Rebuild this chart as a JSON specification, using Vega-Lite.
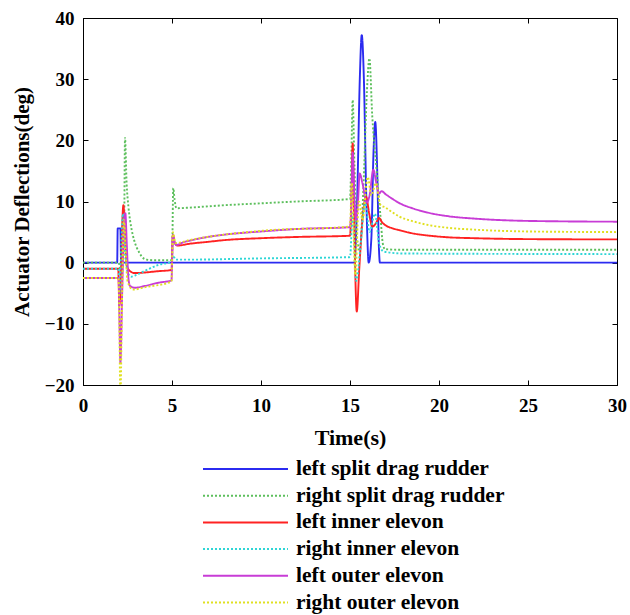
{
  "$schema": "https://vega.github.io/schema/vega-lite/v6.json",
  "autosize": {"type": "none"},
  "width": 534,
  "height": 367,
  "padding": {"left": 83, "top": 18, "right": 13, "bottom": 230},
  "background": "white",
  "config": {
    "view": {"stroke": "black", "strokeWidth": 1},
    "font": "Liberation Serif"
  },
  "datasets": {
    "d": [
      {"s":"left split drag rudder","t":0,"v":0},
      {"s":"left split drag rudder","t":1.92,"v":0},
      {"s":"left split drag rudder","t":1.95,"v":5.6},
      {"s":"left split drag rudder","t":2.1,"v":5.6},
      {"s":"left split drag rudder","t":2.14,"v":0},
      {"s":"left split drag rudder","t":15.25,"v":0},
      {"s":"left split drag rudder","t":15.4,"v":10},
      {"s":"left split drag rudder","t":15.55,"v":30},
      {"s":"left split drag rudder","t":15.66,"v":37.2},
      {"s":"left split drag rudder","t":15.78,"v":30},
      {"s":"left split drag rudder","t":15.92,"v":10},
      {"s":"left split drag rudder","t":16.05,"v":0},
      {"s":"left split drag rudder","t":16.2,"v":4},
      {"s":"left split drag rudder","t":16.32,"v":18},
      {"s":"left split drag rudder","t":16.42,"v":23},
      {"s":"left split drag rudder","t":16.52,"v":16},
      {"s":"left split drag rudder","t":16.63,"v":2},
      {"s":"left split drag rudder","t":16.68,"v":0},
      {"s":"left split drag rudder","t":30,"v":0},

      {"s":"right split drag rudder","t":0,"v":0},
      {"s":"right split drag rudder","t":2.0,"v":0},
      {"s":"right split drag rudder","t":2.15,"v":-2},
      {"s":"right split drag rudder","t":2.3,"v":2},
      {"s":"right split drag rudder","t":2.36,"v":20.4},
      {"s":"right split drag rudder","t":2.45,"v":13},
      {"s":"right split drag rudder","t":2.55,"v":9.2},
      {"s":"right split drag rudder","t":2.65,"v":6.8},
      {"s":"right split drag rudder","t":2.74,"v":5.3},
      {"s":"right split drag rudder","t":2.87,"v":3.7},
      {"s":"right split drag rudder","t":3.0,"v":2.6},
      {"s":"right split drag rudder","t":3.15,"v":1.7},
      {"s":"right split drag rudder","t":3.3,"v":1.0},
      {"s":"right split drag rudder","t":3.57,"v":0.5},
      {"s":"right split drag rudder","t":4.0,"v":0.4},
      {"s":"right split drag rudder","t":5.0,"v":0.4},
      {"s":"right split drag rudder","t":5.07,"v":12.2},
      {"s":"right split drag rudder","t":5.15,"v":10.2},
      {"s":"right split drag rudder","t":5.25,"v":8.9},
      {"s":"right split drag rudder","t":6,"v":9.0},
      {"s":"right split drag rudder","t":7,"v":9.2},
      {"s":"right split drag rudder","t":8,"v":9.4},
      {"s":"right split drag rudder","t":10,"v":9.7},
      {"s":"right split drag rudder","t":12,"v":10.0},
      {"s":"right split drag rudder","t":15.0,"v":10.4},
      {"s":"right split drag rudder","t":15.08,"v":18},
      {"s":"right split drag rudder","t":15.15,"v":26.6},
      {"s":"right split drag rudder","t":15.25,"v":16},
      {"s":"right split drag rudder","t":15.4,"v":4},
      {"s":"right split drag rudder","t":15.55,"v":2},
      {"s":"right split drag rudder","t":15.75,"v":12},
      {"s":"right split drag rudder","t":15.95,"v":28},
      {"s":"right split drag rudder","t":16.09,"v":33.4},
      {"s":"right split drag rudder","t":16.25,"v":24},
      {"s":"right split drag rudder","t":16.5,"v":15},
      {"s":"right split drag rudder","t":16.7,"v":8},
      {"s":"right split drag rudder","t":16.85,"v":3},
      {"s":"right split drag rudder","t":16.97,"v":2.2},
      {"s":"right split drag rudder","t":18,"v":2.1},
      {"s":"right split drag rudder","t":30,"v":2.1},

      {"s":"left inner elevon","t":0,"v":-1},
      {"s":"left inner elevon","t":1.98,"v":-1},
      {"s":"left inner elevon","t":2.04,"v":-7},
      {"s":"left inner elevon","t":2.12,"v":-3},
      {"s":"left inner elevon","t":2.2,"v":6},
      {"s":"left inner elevon","t":2.27,"v":9.4},
      {"s":"left inner elevon","t":2.34,"v":6},
      {"s":"left inner elevon","t":2.45,"v":-0.4},
      {"s":"left inner elevon","t":2.65,"v":-1.4},
      {"s":"left inner elevon","t":2.9,"v":-1.7},
      {"s":"left inner elevon","t":3.5,"v":-1.6},
      {"s":"left inner elevon","t":4.2,"v":-1.4},
      {"s":"left inner elevon","t":4.97,"v":-1.2},
      {"s":"left inner elevon","t":5.05,"v":4.5},
      {"s":"left inner elevon","t":5.15,"v":3.3},
      {"s":"left inner elevon","t":5.3,"v":2.8},
      {"s":"left inner elevon","t":6,"v":3.1},
      {"s":"left inner elevon","t":7,"v":3.4},
      {"s":"left inner elevon","t":8,"v":3.7},
      {"s":"left inner elevon","t":10,"v":4.0},
      {"s":"left inner elevon","t":12,"v":4.2},
      {"s":"left inner elevon","t":15.0,"v":4.4},
      {"s":"left inner elevon","t":15.08,"v":10},
      {"s":"left inner elevon","t":15.15,"v":19.5},
      {"s":"left inner elevon","t":15.24,"v":6},
      {"s":"left inner elevon","t":15.38,"v":-8},
      {"s":"left inner elevon","t":15.52,"v":-1},
      {"s":"left inner elevon","t":15.7,"v":7},
      {"s":"left inner elevon","t":15.9,"v":10.8},
      {"s":"left inner elevon","t":16.08,"v":8},
      {"s":"left inner elevon","t":16.25,"v":5.9},
      {"s":"left inner elevon","t":16.45,"v":6.4},
      {"s":"left inner elevon","t":16.63,"v":7.3},
      {"s":"left inner elevon","t":16.8,"v":6.6},
      {"s":"left inner elevon","t":17,"v":6.1},
      {"s":"left inner elevon","t":17.4,"v":5.6},
      {"s":"left inner elevon","t":17.8,"v":5.3},
      {"s":"left inner elevon","t":18.5,"v":4.8},
      {"s":"left inner elevon","t":19.5,"v":4.4},
      {"s":"left inner elevon","t":20.5,"v":4.15},
      {"s":"left inner elevon","t":22,"v":4.0},
      {"s":"left inner elevon","t":25,"v":3.85},
      {"s":"left inner elevon","t":30,"v":3.8},

      {"s":"right inner elevon","t":0,"v":-1},
      {"s":"right inner elevon","t":2.0,"v":-1},
      {"s":"right inner elevon","t":2.06,"v":-5},
      {"s":"right inner elevon","t":2.15,"v":3},
      {"s":"right inner elevon","t":2.25,"v":8},
      {"s":"right inner elevon","t":2.35,"v":3},
      {"s":"right inner elevon","t":2.5,"v":-1.5},
      {"s":"right inner elevon","t":2.7,"v":-2.3},
      {"s":"right inner elevon","t":3.0,"v":-2.0},
      {"s":"right inner elevon","t":3.5,"v":-1.3},
      {"s":"right inner elevon","t":4.2,"v":-0.4},
      {"s":"right inner elevon","t":5.0,"v":0.2},
      {"s":"right inner elevon","t":5.05,"v":1.2},
      {"s":"right inner elevon","t":5.2,"v":0.5},
      {"s":"right inner elevon","t":6,"v":0.5},
      {"s":"right inner elevon","t":10,"v":0.7},
      {"s":"right inner elevon","t":15,"v":0.9},
      {"s":"right inner elevon","t":15.15,"v":8},
      {"s":"right inner elevon","t":15.35,"v":-3},
      {"s":"right inner elevon","t":15.6,"v":3},
      {"s":"right inner elevon","t":15.85,"v":10},
      {"s":"right inner elevon","t":16.1,"v":5},
      {"s":"right inner elevon","t":16.4,"v":8},
      {"s":"right inner elevon","t":16.65,"v":3},
      {"s":"right inner elevon","t":16.9,"v":1.8},
      {"s":"right inner elevon","t":18,"v":1.5},
      {"s":"right inner elevon","t":30,"v":1.4},

      {"s":"left outer elevon","t":0,"v":-2.5},
      {"s":"left outer elevon","t":2.0,"v":-2.5},
      {"s":"left outer elevon","t":2.05,"v":-10},
      {"s":"left outer elevon","t":2.1,"v":-16.4},
      {"s":"left outer elevon","t":2.2,"v":-5},
      {"s":"left outer elevon","t":2.3,"v":6},
      {"s":"left outer elevon","t":2.38,"v":8.1},
      {"s":"left outer elevon","t":2.46,"v":3},
      {"s":"left outer elevon","t":2.55,"v":-2.5},
      {"s":"left outer elevon","t":2.64,"v":-3.8},
      {"s":"left outer elevon","t":2.9,"v":-4.1},
      {"s":"left outer elevon","t":3.5,"v":-3.8},
      {"s":"left outer elevon","t":4.2,"v":-3.3},
      {"s":"left outer elevon","t":4.97,"v":-2.9},
      {"s":"left outer elevon","t":5.05,"v":4.5},
      {"s":"left outer elevon","t":5.15,"v":3.3},
      {"s":"left outer elevon","t":5.25,"v":2.9},
      {"s":"left outer elevon","t":5.6,"v":3.3},
      {"s":"left outer elevon","t":6,"v":3.6},
      {"s":"left outer elevon","t":7,"v":4.2},
      {"s":"left outer elevon","t":8,"v":4.6},
      {"s":"left outer elevon","t":10,"v":5.1},
      {"s":"left outer elevon","t":12,"v":5.5},
      {"s":"left outer elevon","t":15.0,"v":5.8},
      {"s":"left outer elevon","t":15.08,"v":10},
      {"s":"left outer elevon","t":15.15,"v":18},
      {"s":"left outer elevon","t":15.24,"v":11},
      {"s":"left outer elevon","t":15.35,"v":7},
      {"s":"left outer elevon","t":15.45,"v":10},
      {"s":"left outer elevon","t":15.54,"v":14.6},
      {"s":"left outer elevon","t":15.7,"v":13},
      {"s":"left outer elevon","t":15.94,"v":9.8},
      {"s":"left outer elevon","t":16.1,"v":11},
      {"s":"left outer elevon","t":16.31,"v":15.2},
      {"s":"left outer elevon","t":16.48,"v":13},
      {"s":"left outer elevon","t":16.63,"v":11.3},
      {"s":"left outer elevon","t":16.77,"v":11.7},
      {"s":"left outer elevon","t":17,"v":11.2},
      {"s":"left outer elevon","t":17.4,"v":10.4},
      {"s":"left outer elevon","t":17.8,"v":9.7},
      {"s":"left outer elevon","t":18.5,"v":8.9},
      {"s":"left outer elevon","t":19.5,"v":8.1},
      {"s":"left outer elevon","t":20.5,"v":7.6},
      {"s":"left outer elevon","t":22,"v":7.2},
      {"s":"left outer elevon","t":24,"v":6.9},
      {"s":"left outer elevon","t":27,"v":6.75},
      {"s":"left outer elevon","t":30,"v":6.7},

      {"s":"right outer elevon","t":0,"v":-2.5},
      {"s":"right outer elevon","t":2.0,"v":-2.5},
      {"s":"right outer elevon","t":2.05,"v":-12},
      {"s":"right outer elevon","t":2.1,"v":-22},
      {"s":"right outer elevon","t":2.2,"v":-5},
      {"s":"right outer elevon","t":2.3,"v":7},
      {"s":"right outer elevon","t":2.38,"v":3},
      {"s":"right outer elevon","t":2.5,"v":-3},
      {"s":"right outer elevon","t":2.8,"v":-4.4},
      {"s":"right outer elevon","t":3.5,"v":-4.0},
      {"s":"right outer elevon","t":4.97,"v":-3.1},
      {"s":"right outer elevon","t":5.05,"v":5.0},
      {"s":"right outer elevon","t":5.2,"v":3.2},
      {"s":"right outer elevon","t":6,"v":3.7},
      {"s":"right outer elevon","t":10,"v":5.2},
      {"s":"right outer elevon","t":15,"v":5.9},
      {"s":"right outer elevon","t":15.1,"v":13},
      {"s":"right outer elevon","t":15.3,"v":-2},
      {"s":"right outer elevon","t":15.5,"v":10},
      {"s":"right outer elevon","t":15.7,"v":7},
      {"s":"right outer elevon","t":16.0,"v":14},
      {"s":"right outer elevon","t":16.2,"v":11},
      {"s":"right outer elevon","t":16.45,"v":13},
      {"s":"right outer elevon","t":16.7,"v":9.5},
      {"s":"right outer elevon","t":17,"v":9.0},
      {"s":"right outer elevon","t":17.4,"v":8.2},
      {"s":"right outer elevon","t":17.8,"v":7.5},
      {"s":"right outer elevon","t":18.5,"v":6.8},
      {"s":"right outer elevon","t":19.5,"v":6.1},
      {"s":"right outer elevon","t":20.5,"v":5.7},
      {"s":"right outer elevon","t":22,"v":5.4},
      {"s":"right outer elevon","t":25,"v":5.1},
      {"s":"right outer elevon","t":30,"v":5.0}
    ]
  },
  "data": {"name": "d"},
  "layer": [
    {
      "mark": {"type": "line", "clip": true, "strokeWidth": 1.9, "interpolate": "monotone"},
      "encoding": {
        "x": {
          "field": "t", "type": "quantitative",
          "scale": {"domain": [0, 30], "nice": false, "zero": false},
          "axis": {
            "title": "Time(s)", "values": [0, 5, 10, 15, 20, 25, 30],
            "grid": false, "tickSize": -5, "tickColor": "black", "domainColor": "black",
            "labelFont": "Liberation Serif", "labelFontWeight": "bold", "labelFontSize": 19, "labelColor": "black",
            "labelPadding": 16, "labelFlush": false,
            "titleFont": "Liberation Serif", "titleFontWeight": "bold", "titleFontSize": 22, "titleColor": "black",
            "titlePadding": 12
          }
        },
        "y": {
          "field": "v", "type": "quantitative",
          "scale": {"domain": [-20, 40], "nice": false, "zero": false},
          "axis": {
            "title": "Actuator Deflections(deg)", "values": [-20, -10, 0, 10, 20, 30, 40],
            "grid": false, "tickSize": -5, "tickColor": "black", "domainColor": "black",
            "labelFont": "Liberation Serif", "labelFontWeight": "bold", "labelFontSize": 19, "labelColor": "black",
            "labelPadding": 14, "labelFlush": false,
            "titleFont": "Liberation Serif", "titleFontWeight": "bold", "titleFontSize": 21, "titleColor": "black",
            "titlePadding": 12
          }
        },
        "color": {
          "field": "s", "type": "nominal",
          "scale": {
            "domain": ["left split drag rudder", "right split drag rudder", "left inner elevon", "right inner elevon", "left outer elevon", "right outer elevon"],
            "range": ["#2b2bf0", "#5cbf5c", "#ff2222", "#2ed6d6", "#c83cd6", "#e0e020"]
          },
          "legend": {
            "title": null, "orient": "none", "legendX": 151.5, "legendY": 440,
            "symbolType": "M-4.25,0H4.25", "symbolSize": 400, "symbolStrokeWidth": 2,
            "labelFont": "Liberation Serif", "labelFontWeight": "bold", "labelFontSize": 21.5, "labelColor": "black",
            "labelOffset": 39.5, "rowPadding": 4.7, "padding": 0, "labelLimit": 400
          }
        },
        "strokeDash": {
          "field": "s", "type": "nominal",
          "scale": {
            "domain": ["left split drag rudder", "right split drag rudder", "left inner elevon", "right inner elevon", "left outer elevon", "right outer elevon"],
            "range": [[1, 0], [2, 2], [1, 0], [2, 2], [1, 0], [2, 2]]
          },
          "legend": {
            "title": null, "orient": "none", "legendX": 151.5, "legendY": 440,
            "symbolType": "M-4.25,0H4.25", "symbolSize": 400, "symbolStrokeWidth": 2,
            "labelFont": "Liberation Serif", "labelFontWeight": "bold", "labelFontSize": 21.5, "labelColor": "black",
            "labelOffset": 39.5, "rowPadding": 4.7, "padding": 0, "labelLimit": 400
          }
        }
      }
    },
    {
      "mark": {"type": "line", "opacity": 0},
      "encoding": {
        "x": {
          "field": "t", "type": "quantitative",
          "axis": {"orient": "top", "title": null, "labels": false, "values": [0, 5, 10, 15, 20, 25, 30], "grid": false, "tickSize": -5, "tickColor": "black", "domain": false}
        },
        "y": {
          "field": "v", "type": "quantitative",
          "axis": {"orient": "right", "title": null, "labels": false, "values": [-20, -10, 0, 10, 20, 30, 40], "grid": false, "tickSize": -5, "tickColor": "black", "domain": false}
        }
      }
    }
  ],
  "resolve": {"axis": {"x": "independent", "y": "independent"}}
}
